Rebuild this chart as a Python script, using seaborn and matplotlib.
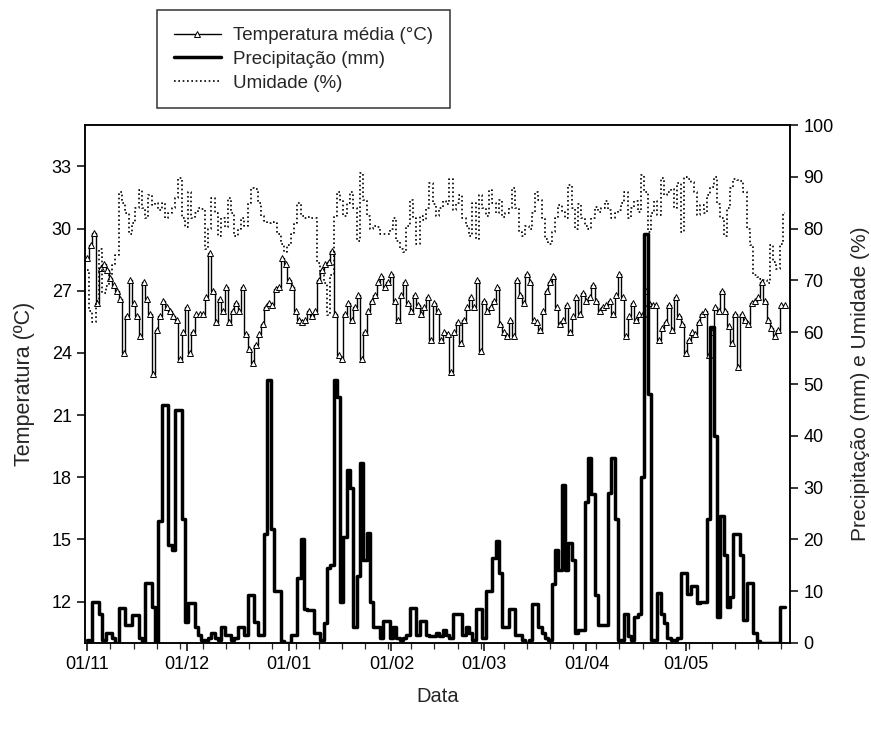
import numpy as np
import pandas as pd
import matplotlib
matplotlib.use("Agg")
import matplotlib.pyplot as plt
import matplotlib.dates as mdates
import seaborn as sns

# ---------------- data (daily, 01/11 .. 31/05) ----------------
start_date = "2012-11-01"
n_days = 212

temperatura = [
    28.6, 29.2, 29.8, 26.4, 28.1, 28.3, 28.0, 27.6, 27.3, 27.0,
    26.6, 24.0, 25.8, 27.5, 26.4, 25.8, 24.8, 27.4, 26.6, 25.9,
    23.0, 25.1, 25.8, 26.5, 26.2, 26.0, 25.8, 25.6, 23.7, 25.0,
    26.2, 24.0, 25.0, 25.9, 25.9, 25.9, 26.7, 28.8, 27.0, 25.5,
    26.6, 26.0, 27.2, 25.5, 26.0, 26.4, 26.0, 27.2, 24.9, 24.2,
    23.5, 24.4, 24.9, 25.4, 26.2, 26.4, 26.3, 27.1, 27.2, 28.6,
    28.3, 27.5, 27.2, 26.0, 25.6, 25.5, 25.6, 26.0, 25.8, 26.0,
    27.5, 28.0, 28.3, 28.4, 28.9, 25.9, 23.9, 23.7, 25.9, 26.4,
    25.6, 26.2, 26.8, 23.7, 25.0, 26.0, 26.5, 26.8, 27.4, 27.7,
    27.2, 27.4, 27.8, 26.5, 25.6, 26.8, 27.4, 26.4, 26.0, 26.8,
    26.3, 25.9, 26.2, 26.7, 24.6, 26.4, 26.0, 24.6, 25.0, 24.9,
    23.1, 25.0, 25.5, 24.5, 25.6, 26.2, 26.7, 26.2, 27.5, 24.1,
    26.5, 26.0, 26.2, 26.5, 27.2, 25.4, 25.0, 24.8, 25.6, 24.8,
    27.5, 26.8, 26.4, 27.8, 27.4, 25.6, 25.5, 25.1, 26.0, 27.0,
    27.4, 27.7, 26.2, 25.4, 25.6, 26.3, 25.0, 25.8, 26.7, 25.9,
    26.9, 26.5, 26.7, 27.3, 26.5, 26.0, 26.2, 26.3, 26.5, 25.9,
    26.8, 27.8, 26.7, 24.8, 25.8, 26.4, 25.6, 25.9, 25.9, 27.0,
    26.4, 26.3, 26.3, 24.6, 25.2, 25.5, 26.3, 25.1, 26.7, 25.8,
    25.4, 24.0, 24.6, 25.0, 24.9, 25.5, 25.9, 26.0, 23.9, 25.0,
    26.2, 26.0, 27.0, 26.0, 25.3, 24.5, 25.9, 23.3, 25.9, 25.6,
    25.4, 26.4, 26.5, 26.7, 27.4, 26.5, 25.6, 25.2, 24.8, 25.1,
    26.3, 26.3,
]

precipitacao = [
    0.5, 0.0, 8.0, 8.0, 5.5, 0.5, 2.0, 2.0, 1.0, 0.0,
    6.8, 6.8, 3.5, 3.5, 5.4, 5.4, 1.0, 0.0, 11.6, 11.6,
    7.0, 0.0, 23.5, 46.0, 46.0, 19.0, 18.0, 45.0, 45.0, 24.0,
    4.0, 7.8, 7.8, 3.0, 1.5, 0.5, 0.0, 1.0, 2.0, 1.0,
    0.5, 3.0, 1.5, 1.5, 0.5, 1.0, 3.0, 3.0, 1.5, 9.2,
    9.2, 4.0, 1.5, 1.5, 21.0, 50.8, 22.0, 10.0, 10.0, 0.3,
    0.0, 0.0, 1.5, 1.5, 12.5, 20.0, 6.5, 6.3, 6.3, 2.0,
    2.0, 0.5, 3.8, 14.5, 15.0, 50.8, 47.5, 8.0, 20.5, 33.4,
    30.0, 3.0, 13.0, 34.7, 16.0, 21.2, 8.0, 3.0, 3.0, 1.0,
    4.2, 4.2, 1.0, 3.0, 1.0, 0.5, 1.0, 1.5, 6.8, 6.8,
    1.5, 4.2, 4.2, 1.5, 1.3, 1.3, 2.0, 1.3, 2.5, 1.5,
    1.0, 5.5, 5.5, 5.5, 1.5, 3.0, 2.0, 0.5, 6.5, 6.5,
    1.0, 10.0, 10.0, 16.4, 19.7, 13.5, 3.0, 3.0, 6.5, 6.5,
    1.5, 1.6, 0.5, 0.0, 0.5, 7.5, 7.5, 3.0, 2.0, 1.0,
    0.5, 11.4, 18.0, 14.0, 30.5, 14.0, 19.3, 16.0, 2.0, 2.5,
    2.5, 27.2, 35.7, 28.7, 9.3, 3.5, 3.5, 3.5, 29.0, 35.7,
    24.0, 0.6, 0.5, 5.6, 1.3, 0.5, 5.0, 5.5, 32.0, 79.0,
    48.0, 0.5, 0.5, 9.6, 5.5, 3.8, 1.0, 0.5, 0.6, 1.0,
    13.5, 13.5, 9.5, 11.0, 11.0, 7.7, 8.0, 8.0, 24.0, 61.0,
    40.0, 5.0, 24.5, 17.0, 7.0, 8.8, 21.0, 21.0, 17.0, 4.5,
    11.6, 11.6, 2.0, 0.3, 0.0, 0.0, 0.0, 0.0, 0.0, 0.0,
    7.0, 7.0,
]

umidade = [
    72.0, 64.0, 62.0, 66.0, 76.0, 67.5, 69.0, 71.0, 73.0, 75.0,
    87.0, 85.0, 83.0, 79.0, 81.0, 84.0, 87.5, 84.0, 82.0, 86.5,
    84.6, 85.0, 83.5, 85.0, 82.0, 83.0, 84.0, 86.0, 89.8, 82.0,
    80.3, 87.0, 82.0, 83.0, 84.0, 83.7, 76.0, 80.0, 86.0, 83.0,
    78.6, 82.0, 80.3, 86.0, 83.0, 78.6, 80.0, 82.0, 80.5, 85.0,
    87.8, 87.6, 85.0, 82.4, 81.5, 81.0, 81.2, 81.0, 79.0, 77.0,
    75.4, 76.8, 79.0, 81.0, 85.0, 82.4, 82.0, 82.2, 82.0, 82.0,
    73.4, 71.0, 69.5, 63.3, 71.0, 82.4, 87.0, 85.6, 82.4, 85.0,
    87.0, 84.0, 77.6, 90.7, 85.6, 82.4, 80.0, 80.6, 80.3, 79.0,
    79.0, 79.0, 80.0, 82.0, 77.6, 76.0, 75.5, 80.6, 85.6, 82.0,
    77.0, 82.4, 81.6, 84.0, 88.8, 84.8, 82.4, 84.0, 85.3, 84.8,
    89.5, 83.6, 85.0, 86.5, 82.0, 80.6, 78.6, 85.0, 78.0, 86.5,
    84.0, 82.4, 87.5, 85.0, 83.0, 85.6, 82.2, 83.0, 84.0, 87.8,
    84.0, 79.3, 78.6, 80.6, 80.0, 83.0, 87.0, 85.6, 82.0, 78.0,
    77.1, 79.3, 82.0, 84.5, 83.2, 82.0, 88.4, 84.0, 80.0, 84.8,
    82.0, 80.6, 80.0, 82.0, 84.2, 83.2, 84.0, 85.3, 83.5, 82.0,
    83.0, 83.6, 85.0, 87.0, 82.0, 84.0, 85.3, 83.2, 90.3, 87.0,
    79.3, 83.0, 85.3, 82.6, 89.8, 86.4, 87.0, 87.6, 84.0, 88.9,
    79.3, 90.0, 89.5, 89.0, 87.0, 82.6, 84.5, 83.0, 86.4, 88.0,
    90.0, 84.8, 82.0, 78.6, 84.0, 87.8, 89.5, 89.3, 89.2, 87.0,
    80.0, 76.8, 71.0, 70.7, 70.2, 70.0, 69.5, 76.8, 73.5, 72.2,
    77.0, 83.0,
]

month_labels = ["01/11", "01/12", "01/01", "01/02", "01/03", "01/04", "01/05"]
temp_ticks = [12, 15, 18, 21, 24, 27, 30, 33]
right_ticks = [0, 10, 20, 30, 40, 50, 60, 70, 80, 90, 100]

datas = pd.date_range(start_date, periods=n_days, freq="D")
df = pd.DataFrame({"Data": datas, "temp": temperatura,
                   "prec": precipitacao, "umid": umidade})

# ---------------- figure ----------------
sns.set_style("ticks")
plt.rcParams["font.family"] = ["Liberation Sans", "DejaVu Sans"]

fig = plt.figure(figsize=(8.71, 7.29), dpi=100)
ax = fig.add_axes([0.0976, 0.118, 0.8094, 0.7105])
ax2 = ax.twinx()

sns.lineplot(data=df, x="Data", y="temp", ax=ax, color="black", lw=1.0,
             drawstyle="steps-mid", marker="^", markersize=3.8,
             markerfacecolor="white", markeredgecolor="black",
             markeredgewidth=0.7, label="Temperatura média (°C)", legend=False)
sns.lineplot(data=df, x="Data", y="prec", ax=ax2, color="black", lw=2.5,
             drawstyle="steps-mid", label="Precipitação (mm)", legend=False)
sns.lineplot(data=df, x="Data", y="umid", ax=ax2, color="black", lw=1.2,
             linestyle=(0, (1, 1.6)), drawstyle="steps-mid",
             label="Umidade (%)", legend=False)

ax.set_ylim(10, 35)
ax2.set_ylim(0, 100)
ax.set_yticks(temp_ticks)
ax2.set_yticks(right_ticks)

x0 = datas[0] - pd.Timedelta(hours=17)
x1 = datas[-1] + pd.Timedelta(days=1.6)
ax.set_xlim(x0, x1)
month_starts = [d for d in datas if d.day == 1]
ax.set_xticks(month_starts)
ax.set_xticklabels(month_labels)
ax.xaxis.set_minor_locator(mdates.DayLocator(interval=7))

for a in (ax, ax2):
    for s in a.spines.values():
        s.set_linewidth(1.1)
        s.set_color("black")
ax.tick_params(axis="both", which="major", direction="out", length=6,
               width=1.1, labelsize=13, colors="black")
ax.tick_params(axis="x", which="minor", direction="out", length=4, width=0.9)
ax2.tick_params(axis="y", which="major", direction="out", length=6,
                width=1.1, labelsize=13, colors="black")

ax.set_xlabel("Data", fontsize=14.5, labelpad=10)
ax.set_ylabel("Temperatura (ºC)", fontsize=15.5, labelpad=12)
ax2.set_ylabel("Precipitação (mm) e Umidade (%)", fontsize=15, labelpad=13)

h1, l1 = ax.get_legend_handles_labels()
h2, l2 = ax2.get_legend_handles_labels()
leg = fig.legend(h1 + h2, l1 + l2, loc="upper left",
                 bbox_to_anchor=(0.180, 0.986), frameon=True, fancybox=False,
                 edgecolor="black", fontsize=13.5, handlelength=2.5,
                 borderpad=0.9, labelspacing=0.35, handletextpad=0.65,
                 borderaxespad=0.0)
leg.get_frame().set_linewidth(1.1)

fig.savefig("out.png", dpi=100)
